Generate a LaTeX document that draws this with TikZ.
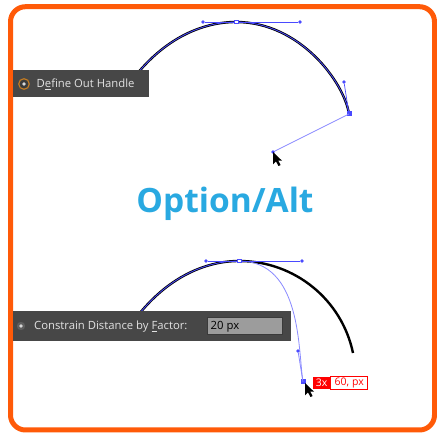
\documentclass[tikz,border=0pt]{standalone}
\usepackage{fontspec}
\setmainfont{Open Sans}
\definecolor{orangeb}{HTML}{FF5A08}
\definecolor{panelc}{HTML}{474747}
\definecolor{paneltxt}{HTML}{E2E2E2}
\definecolor{sel}{HTML}{4A4AFF}
\definecolor{sellight}{HTML}{8A8AFF}
\definecolor{titleblue}{HTML}{29A9E1}
\definecolor{fieldc}{HTML}{9C9C9C}
\definecolor{radioring}{HTML}{C27A22}
\definecolor{radiodark}{HTML}{3A3A3A}
\definecolor{radiolight}{HTML}{D8D8D8}
\definecolor{radiogray}{HTML}{5E5E5E}
\definecolor{fieldborder}{HTML}{3A3A3A}
\tikzset{
  frame/.style={draw=orangeb, line width=5pt, rounded corners=15pt},
  blackpath/.style={draw=black, line width=2.4pt},
  bluepath/.style={draw=sel, line width=0.8pt},
  handle/.style={draw=sel, line width=0.7pt},
  handlelight/.style={draw=sellight, line width=0.8pt},
  hdot/.style={circle, fill=sel, inner sep=0pt, minimum size=3.6pt},
  hollowsq/.style={rectangle, draw=sel, fill=white, line width=0.6pt, inner sep=0pt, minimum size=3.6pt},
  fullsq/.style={rectangle, fill=sel, inner sep=0pt, minimum size=5pt},
  panel/.style={fill=panelc},
  paneltext/.style={text=paneltxt, font=\fontsize{11.3}{13}\selectfont, inner sep=0pt, anchor=west},
  cursor/.pic={\fill[black] (0,0) -- (0,12.5) -- (3,9.5) -- (5.5,14) -- (7.6,13) -- (5.3,8.7) -- (9,8.7) -- cycle;}
}
\begin{document}
\begin{tikzpicture}[x=1pt,y=-1pt]
\useasboundingbox (0,0) rectangle (437,435);
\fill[white] (0,0) rectangle (437,435);
\draw[frame] (10.5,6.7) rectangle (434.5,430);

% ---------- top curve ----------
\path[blackpath] (125,90) .. controls (160,38) and (203,22) .. (236,22) .. controls (300,22) and (344,82) .. (349,114);
\path[bluepath] (125,90) .. controls (160,38) and (203,22) .. (236,22) .. controls (300,22) and (344,82) .. (349,114);
\node[hdot] (th1) at (203,22) {};
\node[hdot] (th2) at (300,22) {};
\node[hollowsq] (ta) at (236,22) {};
\node[hdot] (th3) at (344,82) {};
\node[fullsq] (tb) at (349,114) {};
\coordinate (tc) at (273,152);
\draw[handle] (th1) -- (ta) -- (th2);
\draw[handle] (tb.center) -- (th3);
\draw[handlelight] (tb.center) -- (tc);
\node[hdot] at (tc) {};
\pic at (tc) {cursor};

% top panel
\fill[panel] (13,70) rectangle (149,97);
\draw[draw=radioring, line width=1.2pt] (24,84) circle (5.3pt);
\fill[radiodark] (24,84) circle (4.2pt);
\fill[radiolight] (24,84) circle (1.8pt);
\node[paneltext] (t1) at (36.5,84.5) {D\underline{e}fine Out Handle};

% ---------- title ----------
\node[text=titleblue, font=\fontsize{33.5}{38}\bfseries] (title) at (225,204) {Option/Alt};

% ---------- bottom curve ----------
\path[blackpath] (128,329) .. controls (163,277) and (206,261) .. (239,261) .. controls (295,261) and (342,300) .. (353,353);
\path[bluepath] (128,329) .. controls (163,277) and (206,261) .. (239,261);
\path[handlelight] (239,261) .. controls (302,261) and (298,351) .. (303,382);
\node[hdot] (bh1) at (206,261) {};
\node[hdot] (bh2) at (302,261) {};
\node[hollowsq] (ba) at (239,261) {};
\node[hdot] (bh3) at (298,351) {};
\node[fullsq] (bb) at (303,382) {};
\draw[handle] (bh1) -- (ba) -- (bh2);
\draw[handlelight] (bb.center) -- (bh3);
\coordinate (bc) at (305,383);
\pic at (bc) {cursor};

% bottom panel
\fill[panel] (13,311.5) rectangle (291,341.5);
\fill[radiogray] (21,326) circle (4.2pt);
\fill[radiolight] (21,326) circle (1.8pt);
\node[paneltext] (b1) at (34,326.5) {Constrain Distance by \underline{F}actor:};
\draw[fill=fieldc, draw=fieldborder, line width=0.8pt] (207,317) rectangle (282,334.5);
\node[anchor=west, inner sep=0pt, text=black, font=\fontsize{11.3}{13}\selectfont] (b2) at (210.5,326.3) {20 px};

% label
\node[anchor=north west, fill=red, text=white, inner sep=0pt, minimum height=12.5pt, minimum width=17pt, font=\fontsize{10.5}{12}\selectfont] (l1) at (313,376.5) {3x};
\node[anchor=north west, fill=white, draw=red, line width=0.7pt, text=red, inner sep=0pt, minimum height=12.5pt, minimum width=37pt, font=\fontsize{10.5}{12}\selectfont] (l2) at (l1.north east) {60, px};
\end{tikzpicture}
\end{document}
